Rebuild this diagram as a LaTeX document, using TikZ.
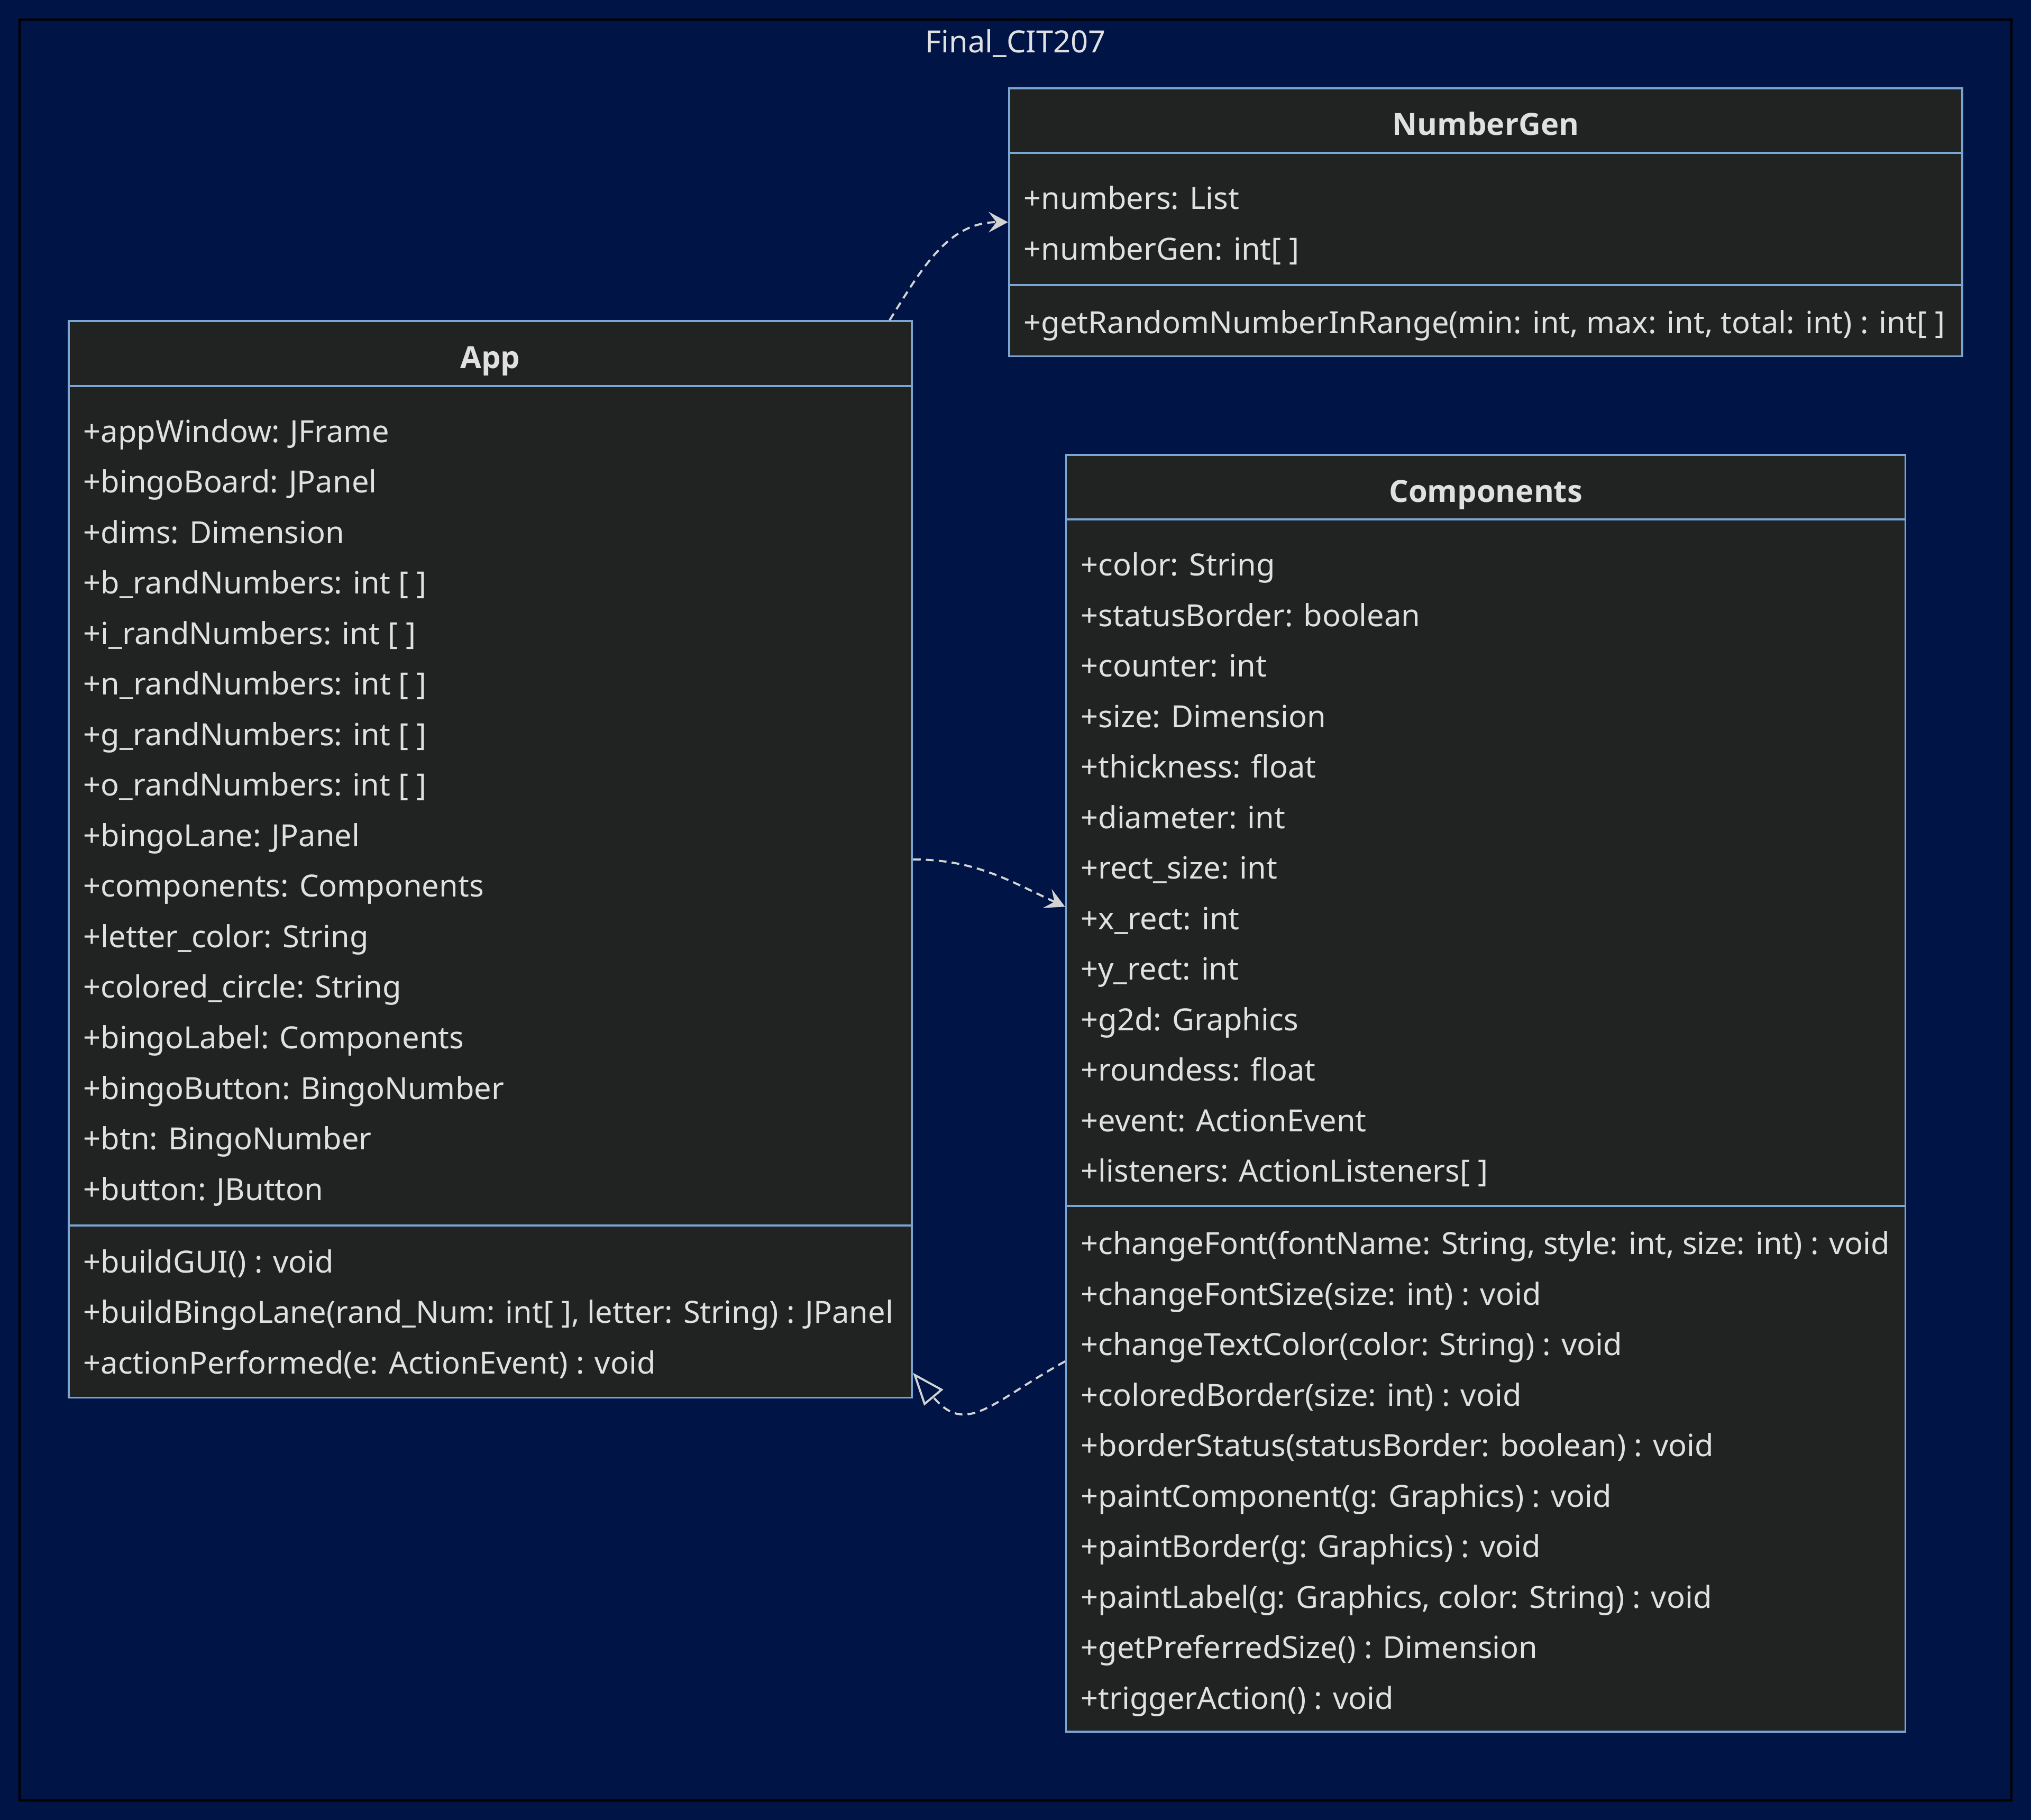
\documentclass[tikz,border=0pt]{standalone}
\usepackage{fontspec}
\setmainfont{Noto Sans}
\newfontfamily\namefont{Open Sans}
\usetikzlibrary{arrows.meta,fit}
\definecolor{pagebg}{RGB}{0,20,70}
\definecolor{boxfill}{RGB}{33,35,34}
\definecolor{boxline}{RGB}{122,166,214}
\definecolor{inktext}{RGB}{224,224,224}
\definecolor{inkline}{RGB}{211,211,211}

\begin{document}
\begin{tikzpicture}
  [x=0.5pt,y=-0.5pt,
   classbox/.style={rectangle,draw=boxline,line width=0.8pt,fill=boxfill,inner sep=0pt},
   classname/.style={font=\namefont\fontsize{11.8}{14}\selectfont\bfseries,text=inktext,text height=8.5pt,text depth=0pt,inner sep=0pt},
   member/.style={anchor=west,font=\fontsize{11.8}{14}\selectfont,text=inktext,text height=8.5pt,text depth=0pt,inner sep=0pt},
   sep/.style={draw=boxline,line width=0.8pt},
   dep/.style={draw=inkline,line width=0.8pt,dash pattern=on 3pt off 2pt,-{Stealth[length=7.5pt,width=8pt,inset=3pt]}},
   realize/.style={draw=inkline,line width=0.8pt,dash pattern=on 3pt off 2pt,-{Triangle[open,length=12.5pt,width=9.5pt]}}]
  \fill[pagebg] (0,0) rectangle (1568,1405);
  \useasboundingbox (0,0) rectangle (1568,1405);
  \draw[black,line width=0.75pt] (15,15) rectangle (1553,1390);
  \node[member,anchor=center] (title) at (784,32) {Final\_CIT207};

  % class boxes
  \node[classbox,fit={(779,68) (1515,275)}] (NumberGen) {};
  \node[classbox,fit={(53,248) (704,1079)}] (App) {};
  \node[classbox,fit={(823,351) (1471,1337)}] (Components) {};

  \draw[sep] (NumberGen.west |- 0,118) -- (NumberGen.east |- 0,118);
  \draw[sep] (NumberGen.west |- 0,220) -- (NumberGen.east |- 0,220);
  \draw[sep] (App.west |- 0,298) -- (App.east |- 0,298);
  \draw[sep] (App.west |- 0,946) -- (App.east |- 0,946);
  \draw[sep] (Components.west |- 0,401) -- (Components.east |- 0,401);
  \draw[sep] (Components.west |- 0,931) -- (Components.east |- 0,931);

  \node[classname] (numbergen_name) at (1147,96) {NumberGen};
  \node[classname] (app_name) at (378.5,276) {App};
  \node[classname] (components_name) at (1147,379) {Components};

  % NumberGen
  \foreach \t [count=\i from 0] in {+numbers: List, +numberGen: int[ ]}
    \node[member] (numbergen_attr\i) at (790,{153+39*\i}) {\t};
  \node[member] (numbergen_op0) at (790,249) {+getRandomNumberInRange(min: int, max: int, total: int) : int[ ]};

  % App
  \foreach \t [count=\i from 0] in {+appWindow: JFrame, +bingoBoard: JPanel, +dims: Dimension,
      +b\_randNumbers: int [ ], +i\_randNumbers: int [ ], +n\_randNumbers: int [ ],
      +g\_randNumbers: int [ ], +o\_randNumbers: int [ ], +bingoLane: JPanel,
      +components: Components, +letter\_color: String, +colored\_circle: String,
      +bingoLabel: Components, +bingoButton: BingoNumber, +btn: BingoNumber, +button: JButton}
    \node[member] (app_attr\i) at (64,{333+39*\i}) {\t};
  \foreach \t [count=\i from 0] in {+buildGUI() : void,
      {+buildBingoLane(rand\_Num: int[ ], letter: String) : JPanel},
      +actionPerformed(e: ActionEvent) : void}
    \node[member] (app_op\i) at (64,{974+39*\i}) {\t};

  % Components
  \foreach \t [count=\i from 0] in {+color: String, +statusBorder: boolean, +counter: int,
      +size: Dimension, +thickness: float, +diameter: int, +rect\_size: int, +x\_rect: int,
      +y\_rect: int, +g2d: Graphics, +roundess: float, +event: ActionEvent,
      +listeners: ActionListeners[ ]}
    \node[member] (components_attr\i) at (834,{436+39*\i}) {\t};
  \foreach \t [count=\i from 0] in {{+changeFont(fontName: String, style: int, size: int) : void},
      +changeFontSize(size: int) : void, +changeTextColor(color: String) : void,
      +coloredBorder(size: int) : void, +borderStatus(statusBorder: boolean) : void,
      +paintComponent(g: Graphics) : void, +paintBorder(g: Graphics) : void,
      {+paintLabel(g: Graphics, color: String) : void}, +getPreferredSize() : Dimension,
      +triggerAction() : void}
    \node[member] (components_op\i) at (834,{960+39*\i}) {\t};

  % relations
  \draw[dep] ([xshift=-9pt]App.north east) to[out=58,in=180] (NumberGen.west);
  \draw[dep] (App.east) to[out=0,in=155] ([yshift=72pt]Components.west);
  \draw[realize] ([yshift=-103.5pt]Components.west) to[out=209,in=-50,looseness=1.4] ([yshift=10pt]App.south east);
\end{tikzpicture}
\end{document}
